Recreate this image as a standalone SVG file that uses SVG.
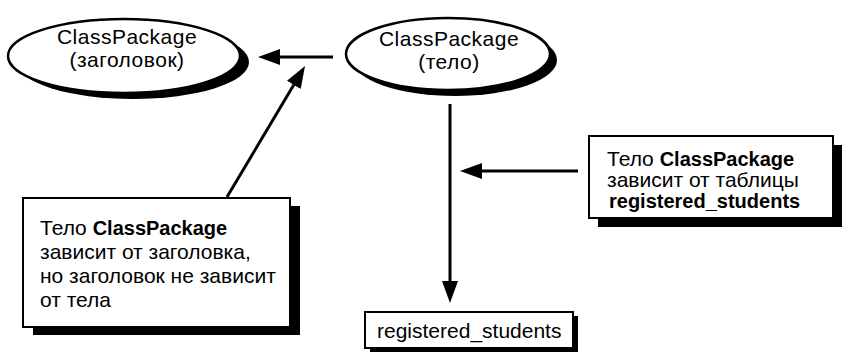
<svg xmlns="http://www.w3.org/2000/svg" width="850" height="355" viewBox="0 0 850 355">
  <style>
    .shadow { fill: #000; }
    .shape { fill: #fff; stroke: #000; stroke-width: 2.5; }
    .box { fill: #fff; stroke: #000; stroke-width: 2; }
    text { font-family: "Liberation Sans", Arial, sans-serif; font-size: 21px; fill: #000; }
    .title { font-size: 21px; letter-spacing: 0.5px; text-anchor: middle; }
    .b { font-weight: bold; font-size: 20px; }
    .edge { fill: none; stroke: #000; stroke-width: 3; marker-end: url(#arrow); }
  </style>
  <defs>
    <marker id="arrow" markerUnits="userSpaceOnUse" markerWidth="24" markerHeight="18" refX="10" refY="8" orient="auto" viewBox="0 0 24 18">
      <path d="M0,0 L22,8 L0,16 Z" fill="#000"/>
    </marker>
  </defs>

  <!-- package header -->
  <g id="header">
    <ellipse class="shadow" cx="133" cy="62" rx="116" ry="37"/>
    <ellipse class="shape" cx="124" cy="56" rx="116" ry="37"/>
    <text class="title" x="127" y="44">ClassPackage<tspan x="127" dy="23">(заголовок)</tspan></text>
  </g>

  <!-- package body -->
  <g id="body">
    <ellipse class="shadow" cx="455" cy="60" rx="102" ry="36"/>
    <ellipse class="shape" cx="448" cy="54" rx="102" ry="36"/>
    <text class="title" x="449" y="46">ClassPackage<tspan x="449" dy="23">(тело)</tspan></text>
  </g>

  <!-- note: body depends on header -->
  <g id="note-header">
    <rect class="shadow" x="33" y="206" width="267" height="129"/>
    <rect class="box" x="23" y="198" width="267" height="129"/>
    <text x="40" y="235">Тело <tspan class="b">ClassPackage</tspan></text>
    <text x="40" y="259">зависит от заголовка,</text>
    <text x="40" y="283">но заголовок не зависит</text>
    <text x="40" y="307">от тела</text>
  </g>

  <!-- note: body depends on table -->
  <g id="note-table">
    <rect class="shadow" x="598" y="145" width="244" height="82"/>
    <rect class="box" x="589" y="136" width="244" height="82"/>
    <text x="607" y="166">Тело <tspan class="b">ClassPackage</tspan></text>
    <text x="607" y="187">зависит от таблицы</text>
    <text class="b" x="609" y="208">registered_students</text>
  </g>

  <!-- table -->
  <g id="table">
    <rect class="shadow" x="370" y="316" width="208" height="36"/>
    <rect class="box" x="365" y="312" width="208" height="36"/>
    <text x="377" y="338">registered_students</text>
  </g>

  <g id="connectors">
    <path class="edge" d="M333,57 L270,57"/>
    <path class="edge" d="M227,197 L298.9,76.3"/>
    <path class="edge" d="M450,104 L450,291"/>
    <path class="edge" d="M578,171 L472,171"/>
  </g>
</svg>
